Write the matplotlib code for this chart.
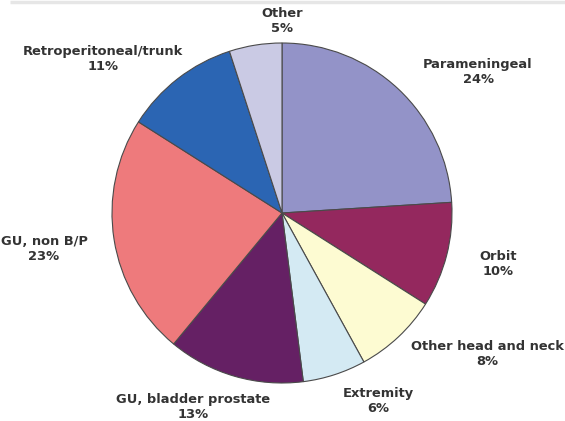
import matplotlib.pyplot as plt

# Sites, clockwise from 12 o'clock
sites = ["Parameningeal", "Orbit", "Other head and neck", "Extremity",
         "GU, bladder prostate", "GU, non B/P", "Retroperitoneal/trunk", "Other"]
shares = [24, 10, 8, 6, 13, 23, 11, 5]
colors = ["#9393C8", "#94285E", "#FDFBD2", "#D4EAF3",
          "#652064", "#EE7A7C", "#2B65B3", "#CACAE4"]

# label centres in pixel coordinates (x, y from top)
label_pos = [(478, 72), (498, 264), (487, 354), (378, 401),
             (193, 407), (44, 249), (103, 59), (282, 21)]

W, H = 565, 421
fig = plt.figure(figsize=(W / 100, H / 100), dpi=100)
ax = fig.add_axes([0, 0, 1, 1])

ax.pie(shares, colors=colors, startangle=90, counterclock=False,
       center=(282, H - 213), radius=170, frame=True,
       wedgeprops=dict(edgecolor="#4a4a4a", linewidth=0.8))
ax.set_xlim(0, W)
ax.set_ylim(0, H)
ax.set_aspect("equal")
ax.axis("off")

for name, val, (x, y) in zip(sites, shares, label_pos):
    ax.text(x, H - y, f"{name}\n{val}%", ha="center", va="center",
            fontsize=9.4, fontweight="bold", color="#333333",
            family="DejaVu Sans", linespacing=1.2)

# faint rule along the top edge
ax.plot([10, W], [H - 1.5, H - 1.5], color="#e6e6e6", linewidth=2.5,
        solid_capstyle="butt")

fig.savefig("out.png", dpi=100)
